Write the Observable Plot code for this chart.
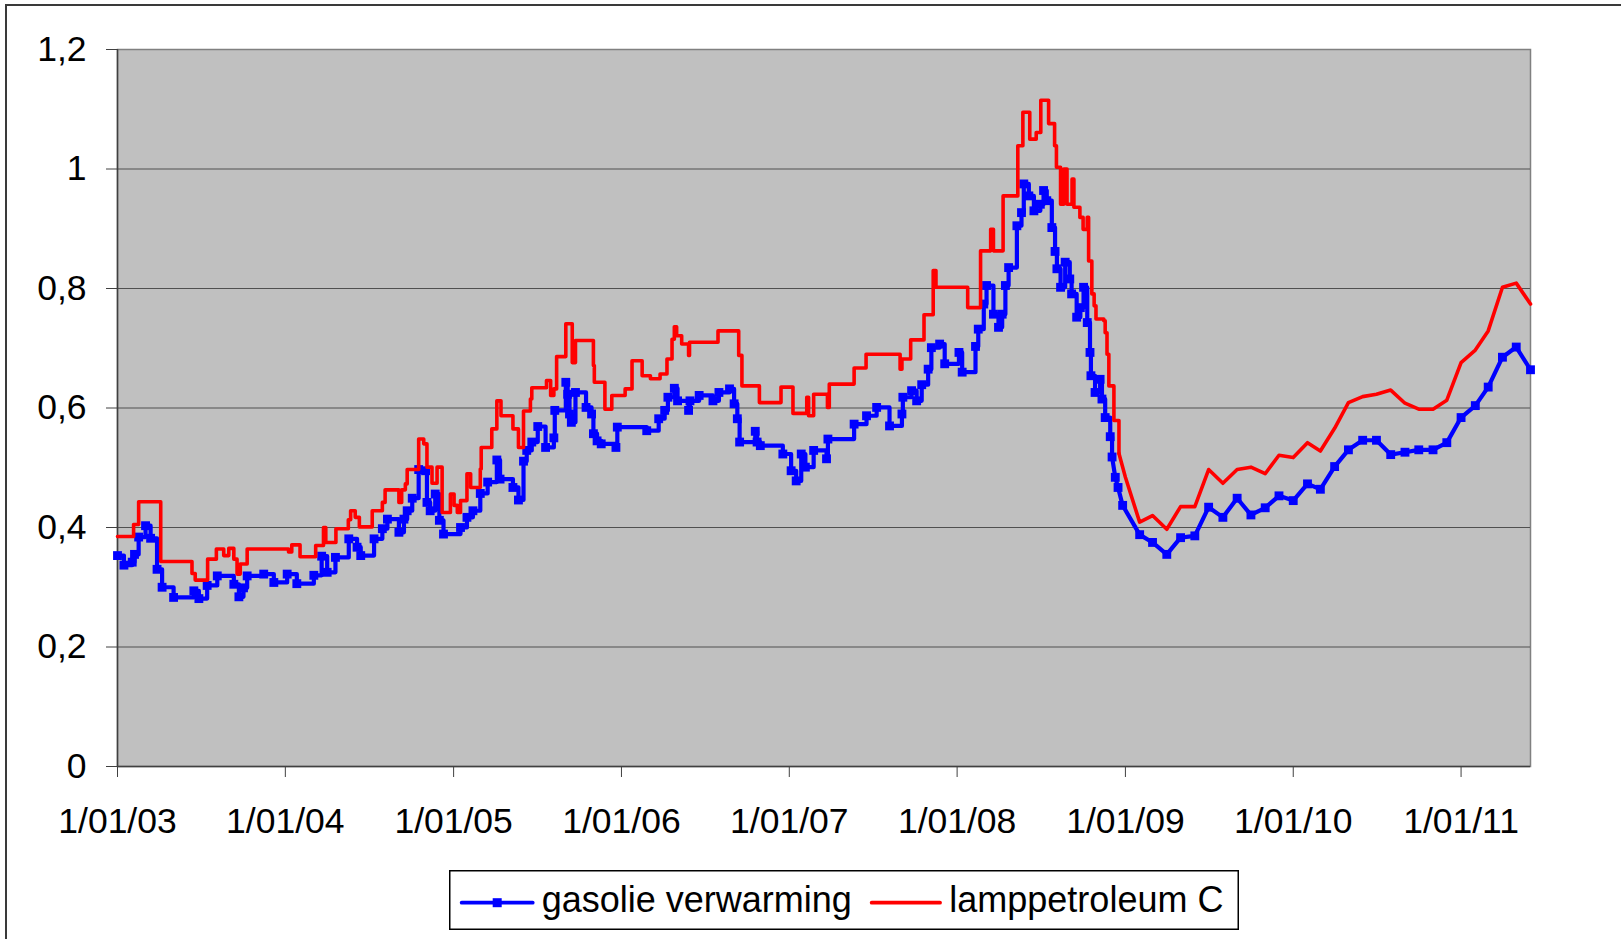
<!DOCTYPE html>
<html>
<head>
<meta charset="utf-8">
<script src="https://cdn.jsdelivr.net/npm/d3@7"></script>
<script src="https://cdn.jsdelivr.net/npm/@observablehq/plot@0.6"></script>
<style>
  html, body { margin: 0; padding: 0; background: #fff; overflow: hidden; }
  #wrap { position: relative; width: 1621px; height: 939px; overflow: hidden; }
  #border { position: absolute; left: 5px; top: 4px; width: 1700px; height: 1000px; border: 2px solid #3a3a3a; box-sizing: border-box; }
  #chart { position: absolute; left: 0; top: 0; }
  #legend { position: absolute; left: 449px; top: 870px; }
</style>
</head>
<body>
<div id="wrap">
  <div id="border"></div>
  <div id="chart"></div>
  <div id="legend"></div>
</div>
<script>
// ---------- DATA ----------
const seriesNames = ["gasolie verwarming", "lamppetroleum C"];
const seriesColors = ["#0000FF", "#FF0000"];

const xTickDates = ["2003-01-01","2004-01-01","2005-01-01","2006-01-01","2007-01-01","2008-01-01","2009-01-01","2010-01-01","2011-01-01"];
const xTickLabels = ["1/01/03","1/01/04","1/01/05","1/01/06","1/01/07","1/01/08","1/01/09","1/01/10","1/01/11"];
const yTicks = [0, 0.2, 0.4, 0.6, 0.8, 1, 1.2];
const yTickLabels = ["0", "0,2", "0,4", "0,6", "0,8", "1", "1,2"];
const xDomain = ["2003-01-01", "2011-06-01"];

// gasolie verwarming: stepwise price changes (2003 - end 2008)
const gasolieStepDates = [
"2003-01-01","2003-01-15","2003-02-02","2003-02-07","2003-02-16","2003-03-03","2003-03-14","2003-03-28","2003-04-08","2003-05-03",
"2003-06-16","2003-06-27","2003-07-15","2003-08-06","2003-09-11","2003-09-22","2003-10-02","2003-10-10","2003-11-15","2003-12-07",
"2004-01-05","2004-01-26","2004-03-03","2004-03-20","2004-04-01","2004-04-19","2004-05-18","2004-06-05","2004-06-13","2004-07-12",
"2004-07-30","2004-08-10","2004-09-04","2004-09-15","2004-09-22","2004-10-03","2004-10-17","2004-11-01","2004-11-04","2004-11-11",
"2004-11-22","2004-12-01","2004-12-10","2005-01-16","2005-01-30","2005-02-12","2005-02-28","2005-03-16","2005-04-05","2005-04-12",
"2005-05-10","2005-05-22","2005-06-02","2005-06-09","2005-06-20","2005-07-03","2005-07-20","2005-08-07","2005-08-09","2005-09-02",
"2005-09-06","2005-09-10","2005-09-14","2005-09-23","2005-10-16","2005-10-28","2005-11-01","2005-11-09","2005-11-18","2005-12-20",
"2005-12-23","2006-02-25","2006-03-23","2006-04-05","2006-04-12","2006-04-26","2006-05-03","2006-05-27","2006-05-30","2006-06-19",
"2006-07-19","2006-08-01","2006-08-24","2006-09-03","2006-09-10","2006-09-15","2006-10-19","2006-10-23","2006-10-30","2006-12-18",
"2007-01-05","2007-01-16","2007-01-27","2007-02-05","2007-02-23","2007-03-23","2007-03-26","2007-05-22","2007-06-18","2007-07-10",
"2007-08-07","2007-09-03","2007-09-05","2007-09-24","2007-10-05","2007-10-16","2007-10-30","2007-11-06","2007-11-24","2007-12-05",
"2008-01-05","2008-01-12","2008-02-10","2008-02-16","2008-02-28","2008-03-05","2008-03-20","2008-03-31","2008-04-08","2008-04-15",
"2008-04-22","2008-05-10","2008-05-20","2008-05-25","2008-06-05","2008-06-16","2008-06-30","2008-07-07","2008-07-14","2008-07-25",
"2008-08-01","2008-08-05","2008-08-13","2008-08-23","2008-09-02","2008-09-06","2008-09-17","2008-09-25","2008-10-02","2008-10-10",
"2008-10-16","2008-10-18","2008-10-27","2008-11-07","2008-11-11","2008-11-18","2008-11-29","2008-12-03"
];
const gasolieStepValues = [
0.353,0.337,0.342,0.355,0.384,0.403,0.382,0.330,0.300,0.283,
0.294,0.281,0.303,0.319,0.305,0.284,0.299,0.319,0.322,0.308,
0.322,0.306,0.320,0.352,0.325,0.350,0.381,0.367,0.353,0.381,
0.398,0.414,0.392,0.414,0.428,0.449,0.497,0.495,0.442,0.428,
0.456,0.412,0.389,0.400,0.417,0.428,0.457,0.476,0.513,0.481,
0.467,0.446,0.511,0.529,0.543,0.569,0.534,0.550,0.596,0.643,
0.623,0.590,0.576,0.626,0.601,0.590,0.557,0.545,0.540,0.534,
0.568,0.562,0.582,0.596,0.618,0.633,0.612,0.596,0.612,0.621,
0.612,0.626,0.632,0.607,0.582,0.543,0.561,0.543,0.537,0.523,
0.495,0.478,0.523,0.501,0.529,0.515,0.548,0.573,0.587,0.601,
0.570,0.590,0.618,0.629,0.612,0.639,0.665,0.701,0.707,0.674,
0.693,0.660,0.703,0.732,0.774,0.805,0.757,0.735,0.757,0.805,
0.835,0.905,0.927,0.975,0.955,0.930,0.941,0.964,0.947,0.902,
0.862,0.833,0.802,0.844,0.816,0.791,0.752,0.768,0.802,0.743,
0.693,0.654,0.626,0.648,0.615,0.584,0.552,0.518
];
// gasolie verwarming: monthly values (Dec 2008 - Jun 2011)
const gasolieMonthDates = [
"2008-12-10","2008-12-16","2008-12-26","2009-02-01","2009-03-01","2009-04-01","2009-05-01","2009-06-01","2009-07-01","2009-08-01",
"2009-09-01","2009-10-01","2009-11-01","2009-12-01","2010-01-01","2010-02-01","2010-03-01","2010-04-01","2010-05-01","2010-06-01",
"2010-07-01","2010-08-01","2010-09-01","2010-10-01","2010-11-01","2010-12-01","2011-01-01","2011-02-01","2011-03-01","2011-04-01",
"2011-05-01","2011-06-01"
];
const gasolieMonthValues = [
0.484,0.467,0.437,0.388,0.375,0.355,0.383,0.386,0.434,0.417,
0.449,0.421,0.433,0.453,0.445,0.473,0.464,0.502,0.530,0.546,
0.546,0.522,0.526,0.530,0.530,0.542,0.584,0.604,0.635,0.685,
0.702,0.664
];

// lamppetroleum C: stepwise price changes (2003 - end 2008)
const lampStepDates = [
"2003-01-01","2003-02-05","2003-02-16","2003-04-05","2003-06-12","2003-06-19","2003-07-16","2003-08-04","2003-08-20","2003-08-31",
"2003-09-11","2003-09-18","2003-09-25","2003-10-10","2004-01-08","2004-01-15","2004-02-02","2004-03-07","2004-03-24","2004-03-29",
"2004-04-20","2004-05-17","2004-05-22","2004-06-01","2004-06-10","2004-07-08","2004-07-30","2004-08-05","2004-09-04","2004-09-10",
"2004-09-18","2004-09-22","2004-10-17","2004-10-28","2004-11-04","2004-11-15","2004-11-26","2004-12-07","2004-12-25","2005-01-02",
"2005-01-09","2005-01-16","2005-01-30","2005-02-07","2005-02-28","2005-03-02","2005-03-25","2005-04-05","2005-04-14","2005-05-10",
"2005-05-22","2005-06-02","2005-06-17","2005-06-20","2005-07-22","2005-07-31","2005-08-07","2005-08-13","2005-09-02","2005-09-16",
"2005-09-23","2005-11-01","2005-11-03","2005-11-26","2005-12-11","2006-01-09","2006-01-24","2006-02-15","2006-03-05","2006-03-26",
"2006-04-10","2006-04-21","2006-04-26","2006-05-01","2006-05-12","2006-05-27","2006-05-29","2006-07-30","2006-09-13","2006-09-20",
"2006-10-28","2006-12-14","2007-01-09","2007-02-08","2007-02-12","2007-02-23","2007-03-25","2007-03-29","2007-05-22","2007-06-17",
"2007-08-30","2007-09-03","2007-09-22","2007-10-21","2007-11-10","2007-11-16","2008-01-24","2008-02-21","2008-03-14","2008-03-20",
"2008-04-10","2008-05-12","2008-05-23","2008-06-07","2008-06-21","2008-07-01","2008-07-18","2008-07-31","2008-08-04","2008-08-13",
"2008-08-20","2008-08-27","2008-09-07","2008-09-11","2008-09-24","2008-10-01","2008-10-10","2008-10-13","2008-10-20","2008-10-25",
"2008-10-29","2008-11-15","2008-11-18","2008-11-22","2008-11-26","2008-12-07","2008-12-18"
];
const lampStepValues = [
0.385,0.405,0.443,0.343,0.323,0.312,0.347,0.364,0.353,0.365,
0.347,0.322,0.339,0.364,0.359,0.371,0.351,0.370,0.400,0.375,
0.398,0.413,0.428,0.417,0.401,0.428,0.442,0.463,0.442,0.463,
0.473,0.497,0.548,0.540,0.501,0.474,0.501,0.425,0.456,0.437,
0.425,0.445,0.490,0.467,0.498,0.534,0.565,0.612,0.587,0.565,
0.534,0.595,0.615,0.634,0.646,0.621,0.632,0.686,0.741,0.676,
0.713,0.671,0.643,0.598,0.621,0.632,0.679,0.654,0.649,0.657,
0.682,0.715,0.736,0.721,0.707,0.688,0.710,0.729,0.688,0.637,
0.609,0.635,0.591,0.618,0.587,0.623,0.601,0.640,0.667,0.690,
0.665,0.682,0.714,0.756,0.830,0.802,0.768,0.863,0.899,0.863,
0.955,1.039,1.095,1.050,1.061,1.115,1.076,1.039,1.003,0.941,
1.000,0.941,0.983,0.936,0.919,0.899,0.919,0.846,0.791,0.771,
0.749,0.746,0.726,0.690,0.637,0.579,0.524
];
// lamppetroleum C: monthly values (Jan 2009 - Jun 2011)
const lampMonthDates = [
"2009-01-01","2009-02-01","2009-03-01","2009-04-01","2009-05-01","2009-06-01","2009-07-01","2009-08-01","2009-09-01","2009-10-01",
"2009-11-01","2009-12-01","2010-01-01","2010-02-01","2010-03-01","2010-04-01","2010-05-01","2010-06-01","2010-07-01","2010-08-01",
"2010-09-01","2010-10-01","2010-11-01","2010-12-01","2011-01-01","2011-02-01","2011-03-01","2011-04-01","2011-05-01","2011-06-01"
];
const lampMonthValues = [
0.484,0.409,0.420,0.397,0.435,0.435,0.497,0.474,0.497,0.501,
0.490,0.521,0.517,0.542,0.528,0.566,0.609,0.619,0.623,0.630,
0.608,0.598,0.598,0.613,0.676,0.697,0.729,0.802,0.809,0.774
];

// ---------- BUILD ----------
const parse = d3.utcParse("%Y-%m-%d");
const rows = (dates, values) => dates.map((d, i) => ({date: parse(d), value: values[i]}));

const gasSteps = rows(gasolieStepDates, gasolieStepValues);
const gasMonths = rows(gasolieMonthDates, gasolieMonthValues);
const lampSteps = rows(lampStepDates, lampStepValues);
const lampMonths = rows(lampMonthDates, lampMonthValues);
// linear part continues from the last stepped value
const gasLinear = [gasSteps[gasSteps.length - 1], ...gasMonths];
const lampLinear = [lampSteps[lampSteps.length - 1], ...lampMonths];
const gasAll = [...gasSteps, ...gasMonths];

const xTicks = xTickDates.map(parse);
const FONT = "'Liberation Sans', Arial, sans-serif";

const chart = Plot.plot({
  width: 1621,
  height: 862,
  marginTop: 49,
  marginBottom: 96,
  marginLeft: 117,
  marginRight: 91,
  style: {fontFamily: FONT, fontSize: "35.5px", color: "#000", background: "transparent", overflow: "visible"},
  x: {type: "utc", domain: xDomain.map(parse)},
  y: {domain: [0, 1.2]},
  marks: [
    Plot.frame({fill: "#C0C0C0", stroke: "#808080", strokeWidth: 1.5}),
    Plot.ruleY(yTicks.filter(d => d > 0 && d < 1.2), {stroke: "#505050", strokeWidth: 1.2}),
    Plot.ruleX([parse(xDomain[0])], {stroke: "#404040", strokeWidth: 1.5}),
    Plot.ruleY([0], {stroke: "#404040", strokeWidth: 1.5}),
    Plot.axisY({
      ticks: yTicks,
      tickFormat: d => yTickLabels[yTicks.indexOf(d)],
      tickSize: 11, tickPadding: 20, stroke: "#404040", label: null,
      fontSize: 35.5
    }),
    Plot.axisX({
      ticks: xTicks,
      tickFormat: d => xTickLabels[xTicks.findIndex(t => +t === +d)],
      tickSize: 11, tickPadding: 30, stroke: "#404040", label: null,
      fontSize: 35.5
    }),
    // gasolie verwarming
    Plot.line(gasSteps, {x: "date", y: "value", curve: "step-after", stroke: seriesColors[0], strokeWidth: 4.2}),
    Plot.line(gasLinear, {x: "date", y: "value", curve: "linear", stroke: seriesColors[0], strokeWidth: 4.2}),
    Plot.dot(gasAll, {x: "date", y: "value", symbol: "square", r: 5, fill: seriesColors[0], stroke: "none"}),
    // lamppetroleum C
    Plot.line(lampSteps, {x: "date", y: "value", curve: "step-after", stroke: seriesColors[1], strokeWidth: 3.6}),
    Plot.line(lampLinear, {x: "date", y: "value", curve: "linear", stroke: seriesColors[1], strokeWidth: 3.6})
  ]
});
document.getElementById("chart").appendChild(chart);

// ---------- LEGEND ----------
const lw = 790, lh = 60;
const leg = d3.create("svg").attr("width", lw).attr("height", lh)
  .style("font-family", FONT).style("font-size", "36px").style("display", "block");
leg.append("rect").attr("x", 0.75).attr("y", 0.75).attr("width", lw - 1.5).attr("height", lh - 1.5)
  .attr("fill", "#fff").attr("stroke", "#000").attr("stroke-width", 1.5);
const items = [
  {name: seriesNames[0], color: seriesColors[0], x0: 12.7, x1: 83.7, tx: 92.7, marker: true},
  {name: seriesNames[1], color: seriesColors[1], x0: 422.7, x1: 491, tx: 500.3, marker: false}
];
for (const it of items) {
  leg.append("line").attr("x1", it.x0).attr("x2", it.x1).attr("y1", 32.7).attr("y2", 32.7)
    .attr("stroke", it.color).attr("stroke-width", 3.8).attr("stroke-linecap", "round");
  if (it.marker) {
    const cx = (it.x0 + it.x1) / 2;
    leg.append("rect").attr("x", cx - 4.5).attr("y", 32.7 - 4.5).attr("width", 9).attr("height", 9).attr("fill", it.color);
  }
  leg.append("text").attr("x", it.tx).attr("y", 41.7).attr("fill", "#000").text(it.name);
}
document.getElementById("legend").appendChild(leg.node());
</script>
</body>
</html>
